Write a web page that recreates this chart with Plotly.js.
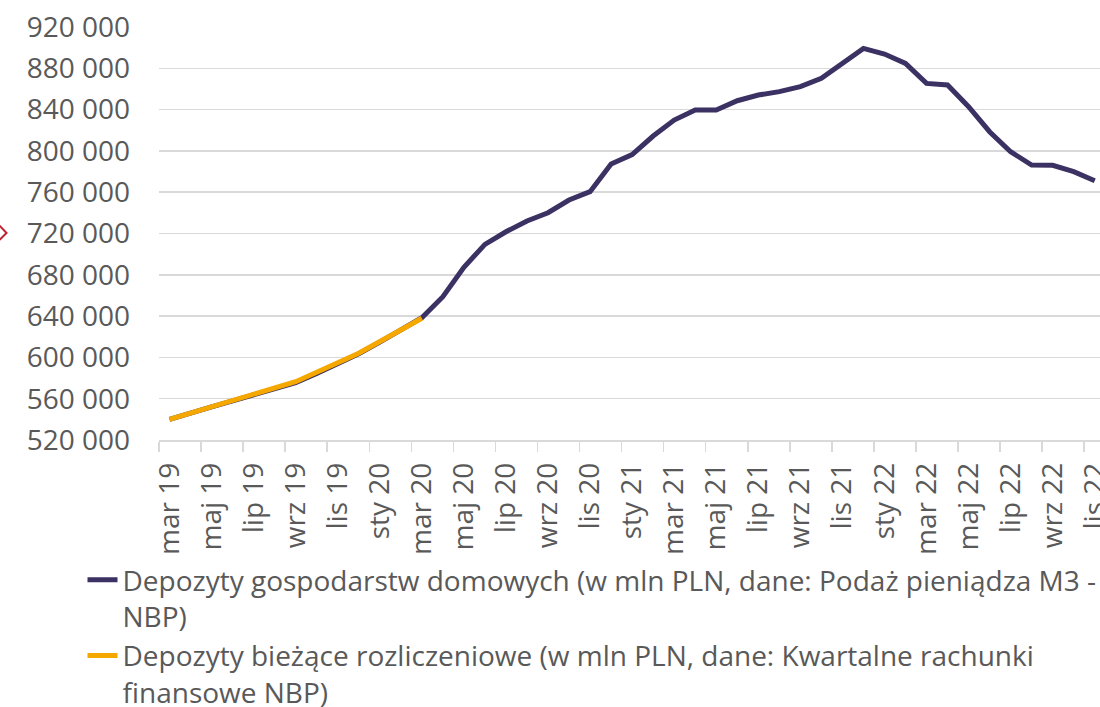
<!DOCTYPE html>
<html>
<head>
<meta charset="utf-8">
<script src="https://cdn.plot.ly/plotly-3.0.1.min.js"></script>
<style>html,body{margin:0;padding:0;background:#fff;}#chart{width:1100px;height:707px;}</style>
</head>
<body>
<div id="chart"></div>
<script>
// Months: mar 2019 .. lis (Nov) 2022
const months = [
  "mar 19","kwi 19","maj 19","cze 19","lip 19","sie 19","wrz 19","paź 19","lis 19","gru 19",
  "sty 20","lut 20","mar 20","kwi 20","maj 20","cze 20","lip 20","sie 20","wrz 20","paź 20","lis 20","gru 20",
  "sty 21","lut 21","mar 21","kwi 21","maj 21","cze 21","lip 21","sie 21","wrz 21","paź 21","lis 21","gru 21",
  "sty 22","lut 22","mar 22","kwi 22","maj 22","cze 22","lip 22","sie 22","wrz 22","paź 22","lis 22"
];
// Depozyty gospodarstw domowych (M3 - NBP), mln PLN
const householdDeposits = [
  540000, 545500, 552000, 557800, 563800, 569500, 575600, 584500, 594200, 603600,
  614800, 626000, 638500, 658800, 687300, 709500, 721700, 732100, 740100, 752400, 760500, 787300,
  796500, 814400, 829900, 839600, 839600, 848600, 854100, 857400, 862200, 870300, 884800, 899300,
  893800, 884800, 865400, 863800, 842800, 818600, 799200, 786300, 786000, 779900, 771100
];
// Depozyty bieżące rozliczeniowe (kwartalne rachunki finansowe NBP), mln PLN
const currentDeposits = [
  540000, null, null, 558300, null, null, 576500, null, null, 604000,
  null, null, 637900, null, null, null, null, null, null, null, null, null,
  null, null, null, null, null, null, null, null, null, null, null, null,
  null, null, null, null, null, null, null, null, null, null, null
];
const seriesNames = [
  "Depozyty gospodarstw domowych (w mln PLN, dane: Podaż pieniądza M3 -<br>NBP)",
  "Depozyty bieżące rozliczeniowe (w mln PLN, dane: Kwartalne rachunki<br>finansowe NBP)"
];
const yTicks = [520000, 560000, 600000, 640000, 680000, 720000, 760000, 800000, 840000, 880000, 920000];

const idx = months.map((m, i) => i);
const labelIdx = idx.filter(i => i % 2 === 0);
const boundaries = labelIdx.map(i => i - 0.5);

const font = "Open Sans, sans-serif";
const grey = "#595959";

const traces = [
  {x: idx, y: householdDeposits, type: "scatter", mode: "lines", name: seriesNames[0],
   line: {color: "#3B3163", width: 5, shape: "linear"}},
  {x: idx, y: currentDeposits, type: "scatter", mode: "lines", name: seriesNames[1], connectgaps: true,
   line: {color: "#F5A800", width: 5}}
];

const layout = {
  width: 1100, height: 707,
  margin: {l: 159, r: 0, t: 27, b: 267, pad: 0, autoexpand: false},
  paper_bgcolor: "#ffffff", plot_bgcolor: "#ffffff",
  separators: ", ",
  font: {family: font, color: grey, size: 27},
  showlegend: true,
  legend: {orientation: "v", xref: "container", yref: "container", x: 0.075, xanchor: "left",
    y: 0.2150, yanchor: "top",
    font: {family: font, size: 28, color: grey}, valign: "top", traceorder: "normal",
    bgcolor: "rgba(0,0,0,0)", itemwidth: 30, tracegroupgap: 0},
  xaxis: {
    range: [-0.5, 44.25], tickmode: "array", tickvals: labelIdx,
    ticktext: labelIdx.map(i => months[i]), tickangle: -90, ticks: "",
    ticklabelstandoff: 10, ticklabeloverflow: "allow", automargin: false,
    tickfont: {family: font, size: 28, color: grey},
    showgrid: false, zeroline: false, showline: true, linecolor: "#D9D9D9", linewidth: 1.5,
    minor: {tickmode: "array", tickvals: boundaries, ticks: "outside", ticklen: 10,
      tickcolor: "#D9D9D9", tickwidth: 1.5, showgrid: false},
    fixedrange: true
  },
  yaxis: {
    range: [520000, 920000], tickmode: "array", tickvals: yTicks, tickformat: ",d",
    ticks: "", ticklabelstandoff: 28, automargin: false,
    tickfont: {family: font, size: 28, color: grey},
    showgrid: true, gridcolor: "#D9D9D9", gridwidth: 1.5, zeroline: false, showline: false,
    fixedrange: true
  },
  shapes: [
    {type: "path", xref: "paper", yref: "paper",
     path: "M -0.1759,0.501 L -0.169,0.518 L -0.162,0.501 L -0.169,0.4855 Z",
     line: {color: "#C0202E", width: 2}, fillcolor: "rgba(0,0,0,0)"}
  ]
};

Plotly.newPlot("chart", traces, layout, {displayModeBar: false, staticPlot: true});
</script>
</body>
</html>
